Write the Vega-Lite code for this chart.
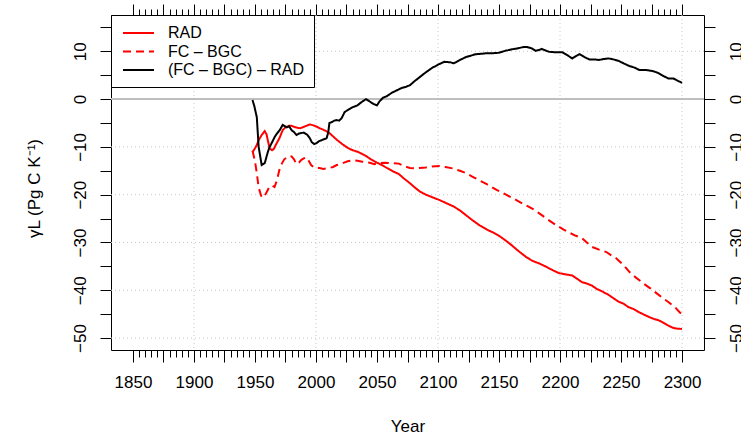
{
  "$schema": "https://vega.github.io/schema/vega-lite/v6.json",
  "width": 593,
  "height": 335,
  "autosize": {"type": "none"},
  "padding": {"left": 111, "top": 15, "right": 37, "bottom": 84},
  "background": "white",
  "config": {
    "view": {"stroke": "black", "strokeWidth": 1},
    "axis": {
      "labelFont": "Liberation Sans", "labelFontSize": 17, "labelColor": "black",
      "titleFont": "Liberation Sans", "titleFontSize": 17, "titleFontWeight": "normal", "titleColor": "black",
      "tickColor": "black", "tickWidth": 1, "domain": false, "labelOverlap": false, "labelFlush": false, "labelBound": false, "grid": false
    }
  },
  "datasets": {
    "ref": [{"level": 0}],
    "vgrid": [{"gx": 1900}, {"gx": 2000}, {"gx": 2100}, {"gx": 2200}, {"gx": 2300}],
    "hgrid": [{"gy": -50}, {"gy": -40}, {"gy": -30}, {"gy": -20}, {"gy": -10}, {"gy": 10}],
    "lines": [
      {"year":1948,"series":"RAD","v":-11.1},{"year":1950,"series":"RAD","v":-10.3},{"year":1951.5,"series":"RAD","v":-9.6},{"year":1953,"series":"RAD","v":-8.6},{"year":1955.5,"series":"RAD","v":-7.5},{"year":1958,"series":"RAD","v":-6.7},{"year":1959.5,"series":"RAD","v":-7.4},{"year":1960.5,"series":"RAD","v":-8.6},{"year":1962,"series":"RAD","v":-10.3},{"year":1964,"series":"RAD","v":-10.7},{"year":1965.5,"series":"RAD","v":-10.4},{"year":1967,"series":"RAD","v":-9.6},{"year":1970,"series":"RAD","v":-8.2},{"year":1972.7,"series":"RAD","v":-6.5},{"year":1975,"series":"RAD","v":-5.9},{"year":1978,"series":"RAD","v":-5.6},{"year":1980,"series":"RAD","v":-5.6},{"year":1983,"series":"RAD","v":-5.9},{"year":1987,"series":"RAD","v":-6.1},{"year":1990,"series":"RAD","v":-5.8},{"year":1993,"series":"RAD","v":-5.5},{"year":1995,"series":"RAD","v":-5.3},{"year":1998,"series":"RAD","v":-5.5},{"year":2001,"series":"RAD","v":-5.8},{"year":2003,"series":"RAD","v":-6.1},{"year":2006,"series":"RAD","v":-6.4},{"year":2009,"series":"RAD","v":-6.8},{"year":2011,"series":"RAD","v":-7.1},{"year":2014,"series":"RAD","v":-7.8},{"year":2017,"series":"RAD","v":-8.5},{"year":2019,"series":"RAD","v":-8.9},{"year":2022,"series":"RAD","v":-9.5},{"year":2026,"series":"RAD","v":-10.2},{"year":2030,"series":"RAD","v":-10.7},{"year":2034,"series":"RAD","v":-11.0},{"year":2038,"series":"RAD","v":-11.5},{"year":2041,"series":"RAD","v":-11.9},{"year":2045,"series":"RAD","v":-12.6},{"year":2050,"series":"RAD","v":-13.3},{"year":2054,"series":"RAD","v":-13.8},{"year":2058,"series":"RAD","v":-14.4},{"year":2063,"series":"RAD","v":-15.1},{"year":2068,"series":"RAD","v":-15.7},{"year":2072,"series":"RAD","v":-16.6},{"year":2077,"series":"RAD","v":-17.6},{"year":2081,"series":"RAD","v":-18.5},{"year":2085,"series":"RAD","v":-19.3},{"year":2090,"series":"RAD","v":-20.0},{"year":2095,"series":"RAD","v":-20.5},{"year":2101,"series":"RAD","v":-21.1},{"year":2107,"series":"RAD","v":-21.8},{"year":2113,"series":"RAD","v":-22.5},{"year":2118,"series":"RAD","v":-23.3},{"year":2123,"series":"RAD","v":-24.3},{"year":2128,"series":"RAD","v":-25.3},{"year":2134,"series":"RAD","v":-26.4},{"year":2140,"series":"RAD","v":-27.3},{"year":2145,"series":"RAD","v":-27.9},{"year":2150,"series":"RAD","v":-28.6},{"year":2155,"series":"RAD","v":-29.5},{"year":2160,"series":"RAD","v":-30.5},{"year":2166,"series":"RAD","v":-31.8},{"year":2172,"series":"RAD","v":-33.0},{"year":2177,"series":"RAD","v":-33.8},{"year":2183,"series":"RAD","v":-34.4},{"year":2188,"series":"RAD","v":-35.0},{"year":2194,"series":"RAD","v":-35.8},{"year":2199,"series":"RAD","v":-36.4},{"year":2205,"series":"RAD","v":-36.7},{"year":2210,"series":"RAD","v":-36.9},{"year":2214,"series":"RAD","v":-37.6},{"year":2218,"series":"RAD","v":-38.3},{"year":2222,"series":"RAD","v":-38.6},{"year":2226,"series":"RAD","v":-39.0},{"year":2230,"series":"RAD","v":-39.7},{"year":2235,"series":"RAD","v":-40.3},{"year":2240,"series":"RAD","v":-41.0},{"year":2244,"series":"RAD","v":-41.7},{"year":2248,"series":"RAD","v":-42.4},{"year":2252,"series":"RAD","v":-42.8},{"year":2256,"series":"RAD","v":-43.5},{"year":2260,"series":"RAD","v":-43.9},{"year":2264,"series":"RAD","v":-44.5},{"year":2268,"series":"RAD","v":-45.0},{"year":2273,"series":"RAD","v":-45.6},{"year":2277,"series":"RAD","v":-46.0},{"year":2281,"series":"RAD","v":-46.3},{"year":2284,"series":"RAD","v":-46.7},{"year":2288,"series":"RAD","v":-47.3},{"year":2292,"series":"RAD","v":-47.8},{"year":2295,"series":"RAD","v":-48.0},{"year":2300,"series":"RAD","v":-48.1},

      {"year":1948,"series":"FC – BGC","v":-10.8},{"year":1950,"series":"FC – BGC","v":-13.0},{"year":1951.5,"series":"FC – BGC","v":-15.5},{"year":1953,"series":"FC – BGC","v":-18.5},{"year":1955.5,"series":"FC – BGC","v":-20.6},{"year":1958,"series":"FC – BGC","v":-20.2},{"year":1960.5,"series":"FC – BGC","v":-19.0},{"year":1962,"series":"FC – BGC","v":-18.3},{"year":1964,"series":"FC – BGC","v":-18.1},{"year":1966,"series":"FC – BGC","v":-18.4},{"year":1968,"series":"FC – BGC","v":-17.0},{"year":1970,"series":"FC – BGC","v":-14.8},{"year":1972,"series":"FC – BGC","v":-13.5},{"year":1974,"series":"FC – BGC","v":-12.6},{"year":1976,"series":"FC – BGC","v":-12.2},{"year":1978,"series":"FC – BGC","v":-11.9},{"year":1980,"series":"FC – BGC","v":-12.0},{"year":1982,"series":"FC – BGC","v":-12.6},{"year":1984,"series":"FC – BGC","v":-13.6},{"year":1986,"series":"FC – BGC","v":-13.3},{"year":1988,"series":"FC – BGC","v":-12.7},{"year":1990,"series":"FC – BGC","v":-12.4},{"year":1992,"series":"FC – BGC","v":-12.2},{"year":1994,"series":"FC – BGC","v":-12.9},{"year":1996,"series":"FC – BGC","v":-13.8},{"year":1998,"series":"FC – BGC","v":-14.2},{"year":2000,"series":"FC – BGC","v":-14.4},{"year":2003,"series":"FC – BGC","v":-14.4},{"year":2006,"series":"FC – BGC","v":-14.6},{"year":2009,"series":"FC – BGC","v":-14.5},{"year":2011,"series":"FC – BGC","v":-14.4},{"year":2014,"series":"FC – BGC","v":-14.2},{"year":2017,"series":"FC – BGC","v":-13.8},{"year":2020,"series":"FC – BGC","v":-13.6},{"year":2023,"series":"FC – BGC","v":-13.3},{"year":2026,"series":"FC – BGC","v":-13.0},{"year":2030,"series":"FC – BGC","v":-12.8},{"year":2034,"series":"FC – BGC","v":-12.9},{"year":2038,"series":"FC – BGC","v":-13.1},{"year":2041,"series":"FC – BGC","v":-13.2},{"year":2044,"series":"FC – BGC","v":-13.3},{"year":2048,"series":"FC – BGC","v":-13.6},{"year":2052,"series":"FC – BGC","v":-13.4},{"year":2056,"series":"FC – BGC","v":-13.3},{"year":2060,"series":"FC – BGC","v":-13.4},{"year":2064,"series":"FC – BGC","v":-13.4},{"year":2068,"series":"FC – BGC","v":-13.5},{"year":2072,"series":"FC – BGC","v":-14.0},{"year":2077,"series":"FC – BGC","v":-14.4},{"year":2081,"series":"FC – BGC","v":-14.5},{"year":2085,"series":"FC – BGC","v":-14.4},{"year":2090,"series":"FC – BGC","v":-14.3},{"year":2095,"series":"FC – BGC","v":-14.1},{"year":2101,"series":"FC – BGC","v":-14.0},{"year":2106,"series":"FC – BGC","v":-14.2},{"year":2112,"series":"FC – BGC","v":-14.5},{"year":2118,"series":"FC – BGC","v":-15.0},{"year":2123,"series":"FC – BGC","v":-15.5},{"year":2128,"series":"FC – BGC","v":-16.2},{"year":2134,"series":"FC – BGC","v":-17.0},{"year":2140,"series":"FC – BGC","v":-17.8},{"year":2148,"series":"FC – BGC","v":-19.0},{"year":2155,"series":"FC – BGC","v":-19.9},{"year":2161,"series":"FC – BGC","v":-20.7},{"year":2166,"series":"FC – BGC","v":-21.4},{"year":2172,"series":"FC – BGC","v":-22.2},{"year":2178,"series":"FC – BGC","v":-23.0},{"year":2183,"series":"FC – BGC","v":-23.9},{"year":2190,"series":"FC – BGC","v":-25.2},{"year":2197,"series":"FC – BGC","v":-26.4},{"year":2203,"series":"FC – BGC","v":-27.3},{"year":2208,"series":"FC – BGC","v":-28.0},{"year":2213,"series":"FC – BGC","v":-28.6},{"year":2218,"series":"FC – BGC","v":-29.1},{"year":2222,"series":"FC – BGC","v":-30.0},{"year":2226,"series":"FC – BGC","v":-30.9},{"year":2232,"series":"FC – BGC","v":-31.5},{"year":2238,"series":"FC – BGC","v":-32.0},{"year":2242,"series":"FC – BGC","v":-32.7},{"year":2246,"series":"FC – BGC","v":-33.3},{"year":2252,"series":"FC – BGC","v":-34.7},{"year":2257,"series":"FC – BGC","v":-36.2},{"year":2262,"series":"FC – BGC","v":-37.3},{"year":2268,"series":"FC – BGC","v":-38.5},{"year":2274,"series":"FC – BGC","v":-39.6},{"year":2279,"series":"FC – BGC","v":-40.6},{"year":2284,"series":"FC – BGC","v":-41.6},{"year":2289,"series":"FC – BGC","v":-42.5},{"year":2294,"series":"FC – BGC","v":-43.5},{"year":2298,"series":"FC – BGC","v":-44.6},{"year":2300,"series":"FC – BGC","v":-45.0},

      {"year":1948,"series":"(FC – BGC) – RAD","v":-0.2},{"year":1949.5,"series":"(FC – BGC) – RAD","v":-1.5},{"year":1951.5,"series":"(FC – BGC) – RAD","v":-3.8},{"year":1953,"series":"(FC – BGC) – RAD","v":-10.0},{"year":1955.5,"series":"(FC – BGC) – RAD","v":-13.8},{"year":1958,"series":"(FC – BGC) – RAD","v":-13.4},{"year":1960.5,"series":"(FC – BGC) – RAD","v":-11.1},{"year":1962,"series":"(FC – BGC) – RAD","v":-10.0},{"year":1963.7,"series":"(FC – BGC) – RAD","v":-9.2},{"year":1966.2,"series":"(FC – BGC) – RAD","v":-7.9},{"year":1968,"series":"(FC – BGC) – RAD","v":-7.2},{"year":1970.3,"series":"(FC – BGC) – RAD","v":-6.5},{"year":1972.7,"series":"(FC – BGC) – RAD","v":-5.4},{"year":1974,"series":"(FC – BGC) – RAD","v":-5.6},{"year":1976,"series":"(FC – BGC) – RAD","v":-5.9},{"year":1978,"series":"(FC – BGC) – RAD","v":-5.7},{"year":1980,"series":"(FC – BGC) – RAD","v":-6.5},{"year":1982,"series":"(FC – BGC) – RAD","v":-6.9},{"year":1984,"series":"(FC – BGC) – RAD","v":-7.5},{"year":1986,"series":"(FC – BGC) – RAD","v":-7.2},{"year":1988,"series":"(FC – BGC) – RAD","v":-7.1},{"year":1990,"series":"(FC – BGC) – RAD","v":-7.0},{"year":1993,"series":"(FC – BGC) – RAD","v":-7.5},{"year":1995,"series":"(FC – BGC) – RAD","v":-8.2},{"year":1996.5,"series":"(FC – BGC) – RAD","v":-9.0},{"year":1998.5,"series":"(FC – BGC) – RAD","v":-9.4},{"year":2000.5,"series":"(FC – BGC) – RAD","v":-9.2},{"year":2002.5,"series":"(FC – BGC) – RAD","v":-8.8},{"year":2004.6,"series":"(FC – BGC) – RAD","v":-8.6},{"year":2006.5,"series":"(FC – BGC) – RAD","v":-8.4},{"year":2008.7,"series":"(FC – BGC) – RAD","v":-8.2},{"year":2010,"series":"(FC – BGC) – RAD","v":-7.0},{"year":2011,"series":"(FC – BGC) – RAD","v":-5.0},{"year":2013,"series":"(FC – BGC) – RAD","v":-4.8},{"year":2015,"series":"(FC – BGC) – RAD","v":-4.5},{"year":2017,"series":"(FC – BGC) – RAD","v":-4.4},{"year":2019,"series":"(FC – BGC) – RAD","v":-4.5},{"year":2021,"series":"(FC – BGC) – RAD","v":-4.0},{"year":2023.5,"series":"(FC – BGC) – RAD","v":-2.7},{"year":2026,"series":"(FC – BGC) – RAD","v":-2.3},{"year":2028,"series":"(FC – BGC) – RAD","v":-2.0},{"year":2030,"series":"(FC – BGC) – RAD","v":-1.7},{"year":2034,"series":"(FC – BGC) – RAD","v":-1.3},{"year":2036,"series":"(FC – BGC) – RAD","v":-0.9},{"year":2038,"series":"(FC – BGC) – RAD","v":-0.5},{"year":2041,"series":"(FC – BGC) – RAD","v":0.0},{"year":2044,"series":"(FC – BGC) – RAD","v":-0.5},{"year":2047,"series":"(FC – BGC) – RAD","v":-1.0},{"year":2050,"series":"(FC – BGC) – RAD","v":-1.3},{"year":2052,"series":"(FC – BGC) – RAD","v":-0.5},{"year":2055,"series":"(FC – BGC) – RAD","v":0.3},{"year":2058,"series":"(FC – BGC) – RAD","v":0.6},{"year":2062,"series":"(FC – BGC) – RAD","v":1.3},{"year":2066,"series":"(FC – BGC) – RAD","v":1.8},{"year":2070,"series":"(FC – BGC) – RAD","v":2.3},{"year":2074,"series":"(FC – BGC) – RAD","v":2.6},{"year":2077,"series":"(FC – BGC) – RAD","v":2.9},{"year":2081,"series":"(FC – BGC) – RAD","v":3.8},{"year":2085,"series":"(FC – BGC) – RAD","v":4.6},{"year":2090,"series":"(FC – BGC) – RAD","v":5.6},{"year":2095,"series":"(FC – BGC) – RAD","v":6.5},{"year":2100,"series":"(FC – BGC) – RAD","v":7.2},{"year":2105,"series":"(FC – BGC) – RAD","v":7.8},{"year":2110,"series":"(FC – BGC) – RAD","v":7.7},{"year":2113,"series":"(FC – BGC) – RAD","v":7.5},{"year":2118,"series":"(FC – BGC) – RAD","v":8.2},{"year":2123,"series":"(FC – BGC) – RAD","v":8.8},{"year":2127,"series":"(FC – BGC) – RAD","v":9.1},{"year":2131,"series":"(FC – BGC) – RAD","v":9.4},{"year":2136,"series":"(FC – BGC) – RAD","v":9.5},{"year":2140,"series":"(FC – BGC) – RAD","v":9.6},{"year":2145,"series":"(FC – BGC) – RAD","v":9.6},{"year":2150,"series":"(FC – BGC) – RAD","v":9.7},{"year":2155,"series":"(FC – BGC) – RAD","v":10.1},{"year":2160,"series":"(FC – BGC) – RAD","v":10.4},{"year":2165,"series":"(FC – BGC) – RAD","v":10.6},{"year":2170,"series":"(FC – BGC) – RAD","v":10.9},{"year":2173,"series":"(FC – BGC) – RAD","v":10.9},{"year":2177,"series":"(FC – BGC) – RAD","v":10.6},{"year":2180,"series":"(FC – BGC) – RAD","v":10.1},{"year":2183,"series":"(FC – BGC) – RAD","v":10.3},{"year":2185,"series":"(FC – BGC) – RAD","v":10.5},{"year":2188,"series":"(FC – BGC) – RAD","v":10.2},{"year":2191,"series":"(FC – BGC) – RAD","v":9.9},{"year":2196,"series":"(FC – BGC) – RAD","v":9.8},{"year":2202,"series":"(FC – BGC) – RAD","v":9.8},{"year":2206,"series":"(FC – BGC) – RAD","v":9.2},{"year":2210,"series":"(FC – BGC) – RAD","v":8.5},{"year":2213,"series":"(FC – BGC) – RAD","v":9.0},{"year":2216,"series":"(FC – BGC) – RAD","v":9.4},{"year":2220,"series":"(FC – BGC) – RAD","v":8.8},{"year":2224,"series":"(FC – BGC) – RAD","v":8.3},{"year":2228,"series":"(FC – BGC) – RAD","v":8.3},{"year":2232,"series":"(FC – BGC) – RAD","v":8.2},{"year":2236,"series":"(FC – BGC) – RAD","v":8.4},{"year":2240,"series":"(FC – BGC) – RAD","v":8.5},{"year":2244,"series":"(FC – BGC) – RAD","v":8.3},{"year":2248,"series":"(FC – BGC) – RAD","v":8.0},{"year":2252,"series":"(FC – BGC) – RAD","v":7.5},{"year":2257,"series":"(FC – BGC) – RAD","v":6.9},{"year":2261,"series":"(FC – BGC) – RAD","v":6.6},{"year":2265,"series":"(FC – BGC) – RAD","v":6.1},{"year":2270,"series":"(FC – BGC) – RAD","v":6.1},{"year":2273,"series":"(FC – BGC) – RAD","v":6.0},{"year":2277,"series":"(FC – BGC) – RAD","v":5.8},{"year":2281,"series":"(FC – BGC) – RAD","v":5.4},{"year":2285,"series":"(FC – BGC) – RAD","v":4.8},{"year":2289,"series":"(FC – BGC) – RAD","v":4.3},{"year":2293,"series":"(FC – BGC) – RAD","v":4.3},{"year":2296,"series":"(FC – BGC) – RAD","v":3.9},{"year":2300,"series":"(FC – BGC) – RAD","v":3.4}
    ]
  },
  "layer": [
    {
      "data": {"name": "vgrid"},
      "mark": {"type": "rule", "color": "#c8c8c8", "strokeWidth": 1, "strokeDash": [1, 3]},
      "encoding": {
        "x": {"field": "gx", "type": "quantitative", "axis": null, "scale": {"domain": [1832, 2318], "nice": false, "zero": false}}
      }
    },
    {
      "data": {"name": "hgrid"},
      "mark": {"type": "rule", "color": "#c8c8c8", "strokeWidth": 1, "strokeDash": [1, 3]},
      "encoding": {
        "y": {"field": "gy", "type": "quantitative", "axis": null, "scale": {"domain": [-52.5, 17.6], "nice": false, "zero": false}}
      }
    },
    {
      "data": {"name": "ref"},
      "mark": {"type": "rule", "color": "#bebebe", "strokeWidth": 2},
      "encoding": {
        "y": {"field": "level", "type": "quantitative", "axis": null, "scale": {"domain": [-52.5, 17.6], "nice": false, "zero": false}}
      }
    },
    {
      "data": {"name": "lines"},
      "transform": [{"filter": "datum.series !== '(FC – BGC) – RAD'"}],
      "mark": {"type": "line", "strokeWidth": 2},
      "encoding": {
        "x": {
          "field": "year", "type": "quantitative",
          "scale": {"domain": [1832, 2318], "nice": false, "zero": false},
          "axis": {
            "orient": "bottom",
            "values": [1850,1855,1860,1865,1870,1875,1880,1885,1890,1895,1900,1905,1910,1915,1920,1925,1930,1935,1940,1945,1950,1955,1960,1965,1970,1975,1980,1985,1990,1995,2000,2005,2010,2015,2020,2025,2030,2035,2040,2045,2050,2055,2060,2065,2070,2075,2080,2085,2090,2095,2100,2105,2110,2115,2120,2125,2130,2135,2140,2145,2150,2155,2160,2165,2170,2175,2180,2185,2190,2195,2200,2205,2210,2215,2220,2225,2230,2235,2240,2245,2250,2255,2260,2265,2270,2275,2280,2285,2290,2295,2300],
            "format": "d",
            "tickSize": {"condition": {"test": "datum.value % 25 === 0", "value": 12}, "value": 7},
            "labelExpr": "datum.value % 50 === 0 ? datum.label : ''",
            "labelBaseline": "top",
            "labelPadding": 12.5,
            "grid": false,
            "title": "Year",
            "titleX": 296.5,
            "titleY": 76,
            "titleAlign": "center",
            "titleBaseline": "middle"
          }
        },
        "y": {
          "field": "v", "type": "quantitative",
          "scale": {"domain": [-52.5, 17.6], "nice": false, "zero": false},
          "axis": {
            "orient": "left",
            "values": [-50,-45,-40,-35,-30,-25,-20,-15,-10,-5,0,5,10,15],
            "tickSize": 11,
            "labelExpr": "datum.value % 10 === 0 ? datum.label : ''",
            "labelAngle": -90,
            "labelAlign": "center",
            "labelBaseline": "bottom",
            "labelPadding": 10.4,
            "grid": false,
            "title": "γL (Pg C K⁻¹)",
            "titleAngle": -90,
            "titleX": -77,
            "titleY": 173,
            "titleAlign": "center",
            "titleBaseline": "middle"
          }
        },
        "color": {
          "field": "series", "type": "nominal",
          "scale": {"domain": ["RAD", "FC – BGC", "(FC – BGC) – RAD"], "range": ["#ff0000", "#ff0000", "#000000"]},
          "legend": {
            "title": null, "orient": "top-left", "offset": 0, "padding": 9,
            "strokeColor": "black", "fillColor": "white", "cornerRadius": 0,
            "labelFont": "Liberation Sans", "labelFontSize": 16, "labelColor": "black", "labelOffset": 30, "labelLimit": 400,
            "symbolType": "M-0.774,0H3.226", "symbolSize": 240.25, "symbolStrokeWidth": 2, "rowPadding": 1.5
          }
        },
        "strokeDash": {
          "field": "series", "type": "nominal",
          "scale": {"domain": ["RAD", "FC – BGC", "(FC – BGC) – RAD"], "range": [[1, 0], [8, 5], [1, 0]]},
          "legend": {
            "title": null, "orient": "top-left", "offset": 0, "padding": 9,
            "strokeColor": "black", "fillColor": "white", "cornerRadius": 0,
            "labelFont": "Liberation Sans", "labelFontSize": 16, "labelColor": "black", "labelOffset": 30, "labelLimit": 400,
            "symbolType": "M-0.774,0H3.226", "symbolSize": 240.25, "symbolStrokeWidth": 2, "rowPadding": 1.5
          }
        }
      }
    },
    {
      "data": {"name": "lines"},
      "transform": [{"filter": "datum.series === '(FC – BGC) – RAD'"}],
      "mark": {"type": "line", "strokeWidth": 2},
      "encoding": {
        "x": {
          "field": "year", "type": "quantitative",
          "scale": {"domain": [1832, 2318], "nice": false, "zero": false},
          "axis": {
            "orient": "top",
            "values": [1850,1855,1860,1865,1870,1875,1880,1885,1890,1895,1900,1905,1910,1915,1920,1925,1930,1935,1940,1945,1950,1955,1960,1965,1970,1975,1980,1985,1990,1995,2000,2005,2010,2015,2020,2025,2030,2035,2040,2045,2050,2055,2060,2065,2070,2075,2080,2085,2090,2095,2100,2105,2110,2115,2120,2125,2130,2135,2140,2145,2150,2155,2160,2165,2170,2175,2180,2185,2190,2195,2200,2205,2210,2215,2220,2225,2230,2235,2240,2245,2250,2255,2260,2265,2270,2275,2280,2285,2290,2295,2300],
            "tickSize": {"condition": {"test": "datum.value % 25 === 0", "value": 11}, "value": 6},
            "labels": false,
            "grid": false,
            "title": null
          }
        },
        "y": {
          "field": "v", "type": "quantitative",
          "scale": {"domain": [-52.5, 17.6], "nice": false, "zero": false},
          "axis": {
            "orient": "right",
            "values": [-50,-45,-40,-35,-30,-25,-20,-15,-10,-5,0,5,10,15],
            "tickSize": 11,
            "labelExpr": "datum.value % 10 === 0 ? datum.label : ''",
            "labelAngle": -90,
            "labelAlign": "center",
            "labelBaseline": "top",
            "labelPadding": 13.2,
            "grid": false,
            "title": null
          }
        },
        "color": {
          "field": "series", "type": "nominal",
          "scale": {"domain": ["RAD", "FC – BGC", "(FC – BGC) – RAD"], "range": ["#ff0000", "#ff0000", "#000000"]},
          "legend": {
            "title": null, "orient": "top-left", "offset": 0, "padding": 9,
            "strokeColor": "black", "fillColor": "white", "cornerRadius": 0,
            "labelFont": "Liberation Sans", "labelFontSize": 16, "labelColor": "black", "labelOffset": 30, "labelLimit": 400,
            "symbolType": "M-0.774,0H3.226", "symbolSize": 240.25, "symbolStrokeWidth": 2, "rowPadding": 1.5
          }
        },
        "strokeDash": {
          "field": "series", "type": "nominal",
          "scale": {"domain": ["RAD", "FC – BGC", "(FC – BGC) – RAD"], "range": [[1, 0], [8, 5], [1, 0]]},
          "legend": {
            "title": null, "orient": "top-left", "offset": 0, "padding": 9,
            "strokeColor": "black", "fillColor": "white", "cornerRadius": 0,
            "labelFont": "Liberation Sans", "labelFontSize": 16, "labelColor": "black", "labelOffset": 30, "labelLimit": 400,
            "symbolType": "M-0.774,0H3.226", "symbolSize": 240.25, "symbolStrokeWidth": 2, "rowPadding": 1.5
          }
        }
      }
    }
  ],
  "resolve": {"axis": {"x": "independent", "y": "independent"}}
}
